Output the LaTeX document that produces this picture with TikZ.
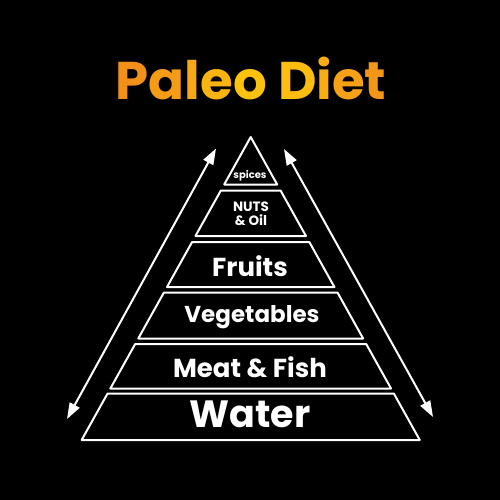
\documentclass[tikz,border=0pt]{standalone}
\usepackage{fontspec}
\setmainfont{Poppins}
\usetikzlibrary{arrows.meta}
\definecolor{tor}{HTML}{F3901A}
\definecolor{tye}{HTML}{FFCB0C}
\begin{document}
\begin{tikzpicture}[x=1pt,y=-1pt,
  band/.style={draw=white,line width=2pt,line join=round},
  lab/.style={text=white,font=\bfseries,inner sep=0pt,align=center},
  sidearrow/.style={draw=white,line width=2pt,{Triangle[length=16pt,width=11pt]}-{Triangle[length=16pt,width=11pt]}}]
\fill[black] (0,0) rectangle (500,500);
\useasboundingbox (0,0) rectangle (500,500);
% title
\node[inner sep=0pt,font=\fontsize{53}{53}\selectfont\bfseries] (title) at (251,78)
  {\textcolor{tor}{P}\textcolor{tye!20!tor}{a}\textcolor{tye!40!tor}{l}\textcolor{tye!60!tor}{e}\textcolor{tye!85!tor}{o} \textcolor{tye!75!tor}{D}\textcolor{tye!50!tor}{i}\textcolor{tye!30!tor}{e}\textcolor{tye!10!tor}{t}};
% pyramid bands
\draw[band] (250.7,137) -- (277.2,184.5) -- (224.2,184.5) -- cycle;
\draw[band] (220.85,190.5) -- (280.55,190.5) -- (305.94,236) -- (195.46,236) -- cycle;
\draw[band] (192.11,242) -- (309.29,242) -- (334.4,287) -- (167.0,287) -- cycle;
\draw[band] (163.93,292.5) -- (337.47,292.5) -- (363.14,338.5) -- (138.26,338.5) -- cycle;
\draw[band] (135.2,344) -- (366.2,344) -- (391.04,388.5) -- (110.36,388.5) -- cycle;
\draw[band] (107.57,393.5) -- (393.83,393.5) -- (419.77,440) -- (81.63,440) -- cycle;
% labels
\node[lab,font=\fontsize{10}{10}\selectfont\bfseries] (spices) at (250,176) {spices};
\node[lab,font=\fontsize{13.5}{13.5}\selectfont\bfseries] (nuts) at (251,214) {NUTS\\\& Oil};
\node[lab,font=\fontsize{26}{26}\selectfont\bfseries] (fruits) at (250,266) {Fruits};
\node[lab,font=\fontsize{23}{23}\selectfont\bfseries] (veg) at (252,317) {Vegetables};
\node[lab,font=\fontsize{26}{26}\selectfont\bfseries] (meat) at (250,367) {Meat \& Fish};
\node[lab,font=\fontsize{38}{38}\selectfont\bfseries] (water) at (250,414) {Water};
% side arrows
\coordinate (lt) at (216,148.5);
\coordinate (lb) at (67,419);
\coordinate (rt) at (284,149);
\coordinate (rb) at (433,417);
\draw[sidearrow] (lt) -- (lb);
\draw[sidearrow] (rt) -- (rb);
\end{tikzpicture}
\end{document}
